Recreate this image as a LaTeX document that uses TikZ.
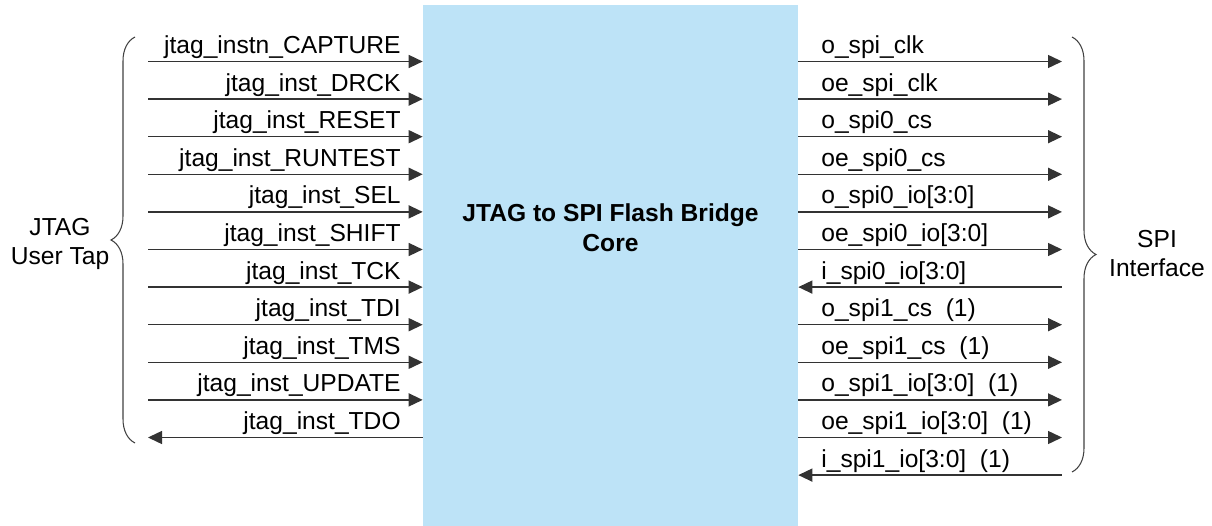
\documentclass[tikz,border=0pt]{standalone}
\usepackage{fontspec}
\setmainfont{Liberation Sans}
\usetikzlibrary{arrows.meta,decorations.pathreplacing}
\definecolor{coreblue}{RGB}{189,227,247}

\begin{document}
\begin{tikzpicture}[x=0.02cm, y=-0.02cm, >={Triangle[length=2.8mm,width=2.6mm]},
    sig/.style={draw=black!80, line width=0.8pt},
    tout/.style={sig, ->},
    tin/.style={sig, <-},
    lbl/.style={inner sep=0pt, font=\fontsize{14}{16.5}\selectfont},
    brc/.style={draw=black!75, line width=0.6pt, decorate, decoration={brace, amplitude=0.48cm}}]
    \useasboundingbox (0,0) rectangle (1212,526);

    % 中间核心方框
    \node[fill=coreblue, inner sep=0pt, minimum width=7.5cm, minimum height=10.42cm] (core) at (610.5,265.5) {};
    \node[lbl, font=\fontsize{14}{17}\selectfont\bfseries, align=center] (title) at (610.5,228) {JTAG to SPI Flash Bridge\\Core};

    % 左侧 JTAG 输入信号
    \foreach \name [count=\i from 0] in {jtag\_instn\_CAPTURE, jtag\_inst\_DRCK, jtag\_inst\_RESET, jtag\_inst\_RUNTEST, jtag\_inst\_SEL, jtag\_inst\_SHIFT, jtag\_inst\_TCK, jtag\_inst\_TDI, jtag\_inst\_TMS, jtag\_inst\_UPDATE}
    {
        \coordinate (l\i) at (148, 61.5+37.6*\i);
        \draw[tout] (l\i) -- (l\i -| core.west);
        \node[lbl, anchor=base east] (ln\i) at (401, 53.5+37.6*\i) {\name};
    }

    % TDO 输出
    \coordinate (l10) at (148, 437.5);
    \draw[tin] (l10) -- (l10 -| core.west);
    \node[lbl, anchor=base east] (ln10) at (401, 429.5) {jtag\_inst\_TDO};

    % 右侧 SPI 信号
    \foreach \name/\dir [count=\i from 0] in {o\_spi\_clk/tout, oe\_spi\_clk/tout, o\_spi0\_cs/tout, oe\_spi0\_cs/tout, o\_spi0\_io[3:0]/tout, oe\_spi0\_io[3:0]/tout, i\_spi0\_io[3:0]/tin, o\_spi1\_cs\ \ (1)/tout, oe\_spi1\_cs\ \ (1)/tout, o\_spi1\_io[3:0]\ \ (1)/tout, oe\_spi1\_io[3:0]\ \ (1)/tout, i\_spi1\_io[3:0]\ \ (1)/tin}
    {
        \coordinate (r\i) at (1062, 61.5+37.6*\i);
        \draw[\dir] (r\i -| core.east) -- (r\i);
        \node[lbl, anchor=base west] (rn\i) at (821, 53.5+37.6*\i) {\name};
    }

    % 两侧花括号及分组名
    \draw[brc] (135,443) -- (135,37);
    \draw[brc] (1072,37) -- (1072,472);
    \node[lbl, align=center] (jtag) at (60,244) {JTAG\\User Tap};
    \node[lbl, align=center] (spi) at (1157,254) {SPI\\Interface};
\end{tikzpicture}
\end{document}
